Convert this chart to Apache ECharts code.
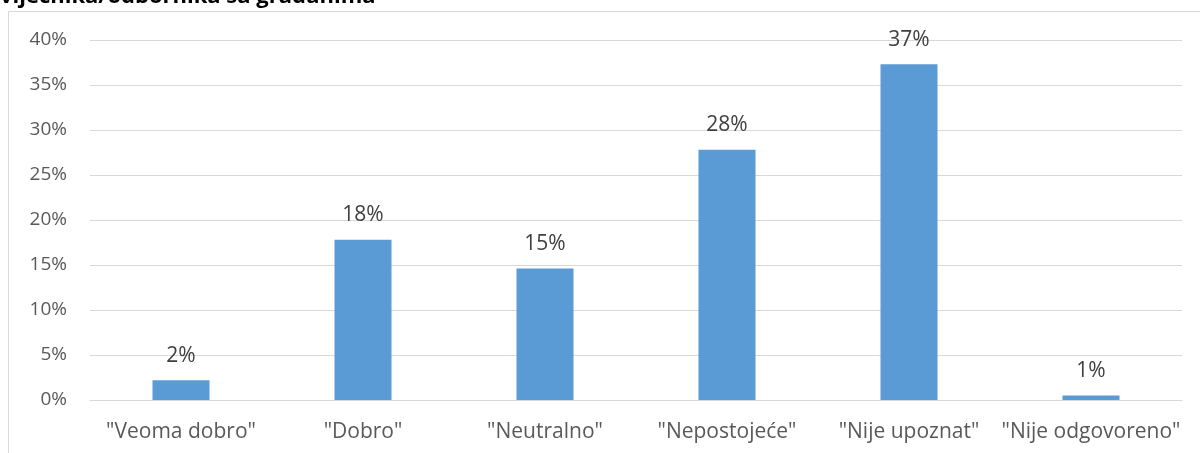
<!DOCTYPE html>
<html><head><meta charset="utf-8">
<script src="https://cdn.jsdelivr.net/npm/echarts@6/dist/echarts.min.js"></script>
<style>html,body{margin:0;padding:0;background:#fff}#c{width:1200px;height:453px}</style>
</head><body><div id="c"></div>
<script>
const titleText = 'vijećnika/odbornika sa građanima';
const categories = ['"Veoma dobro"', '"Dobro"', '"Neutralno"', '"Nepostojeće"', '"Nije upoznat"', '"Nije odgovoreno"'];
const values = [2.2, 17.8, 14.6, 27.8, 37.3, 0.5];
const yTicks = [0, 5, 10, 15, 20, 25, 30, 35, 40];

const font = '"Open Sans", sans-serif';
const chart = echarts.init(document.getElementById('c'), null, {renderer: 'canvas'});
chart.setOption({
  animation: false,
  graphic: [
    {type: 'rect', shape: {x: 8.5, y: 11.5, width: 1250, height: 460}, style: {fill: 'none', stroke: '#d9d9d9', lineWidth: 1}},
    {type: 'text', x: 0, y: 8, style: {text: titleText, font: 'bold 22px ' + font, fill: '#000', textVerticalAlign: 'bottom'}}
  ],
  grid: {left: 90, right: 18, top: 40, bottom: 53, containLabel: false},
  xAxis: {
    type: 'category', data: categories,
    axisLine: {lineStyle: {color: '#d9d9d9'}},
    axisTick: {show: false},
    axisLabel: {color: '#595959', fontFamily: font, fontSize: 21, margin: 22, interval: 0}
  },
  yAxis: {
    type: 'value', min: 0, max: 40, interval: 5,
    axisLine: {show: false}, axisTick: {show: false},
    splitLine: {lineStyle: {color: '#d9d9d9'}},
    axisLabel: {color: '#595959', fontFamily: font, fontSize: 19, margin: 23,
      formatter: v => yTicks.includes(v) ? v + '%' : ''}
  },
  series: [{
    type: 'bar', data: values, barWidth: 57,
    itemStyle: {color: '#5b9bd5'},
    label: {show: true, position: 'top', distance: 14, color: '#404040', fontFamily: font, fontSize: 21,
      formatter: p => Math.round(p.value) + '%'}
  }]
});
</script></body></html>
